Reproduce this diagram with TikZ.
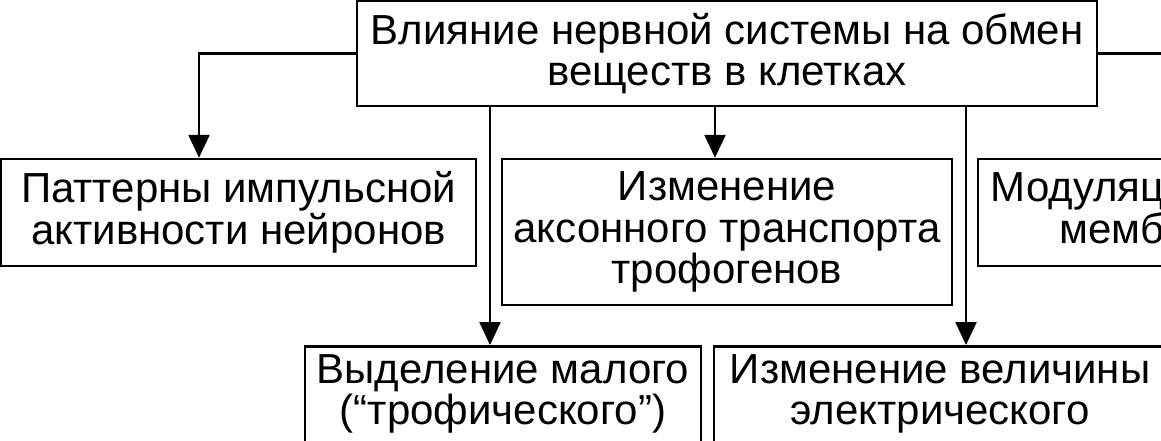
\documentclass[tikz,border=0pt]{standalone}
\usepackage{fontspec}
\setmainfont{Liberation Sans}
\usetikzlibrary{arrows.meta,positioning}

\begin{document}
\begin{tikzpicture}[x=1pt, y=-1pt,
  box/.style={draw, line width=2.5pt, align=center, inner sep=0pt,
    font=\fontsize{42}{41.5}\selectfont},
  arr/.style={line width=2.5pt, -{Triangle[width=21pt,length=23pt]}}]

 \useasboundingbox (0,0) rectangle (1161,441);
 \clip (0,0) rectangle (1161,441);

 % top
 \node[box, minimum width=740pt, minimum height=105pt] (top) at (727,53.5)
   {Влияние нервной системы на обмен\\веществ в клетках};

 %level 2
 \node[box, minimum width=475pt, minimum height=107pt] (pat) at (238.5,212.5)
   {Паттерны импульсной\\активности нейронов};
 \node[box, minimum width=450pt, minimum height=146pt] (axo) at (727,232)
   {Изменение\\аксонного транспорта\\трофогенов};
 \node[box, minimum width=475pt, minimum height=107pt] (mod) at (1215.5,212.5)
   {Модуляция активности\\мембран клеток};

 %level 3
 \node[box, anchor=north, minimum width=396pt, inner ysep=8pt, text depth=150pt] (sel) at (503,345)
   {Выделение малого\\(“трофического”)};
 \node[box, anchor=north, minimum width=452pt, inner ysep=8pt, text depth=150pt] (chg) at (940,345)
   {Изменение величины\\электрического};

 % arrows
 \draw[arr] (top.west) -| ([xshift=-39.5pt]pat.north);
 \draw[arr] (top.east) -| ([xshift=39.5pt]mod.north);
 \draw[arr] ([xshift=-12pt]top.south) -- ([xshift=-12pt]axo.north);
 \draw[arr] ([xshift=-237pt]top.south) -- ([xshift=-13pt]sel.north);
 \draw[arr] ([xshift=239pt]top.south) -- ([xshift=26pt]chg.north);

\end{tikzpicture}
\end{document}
